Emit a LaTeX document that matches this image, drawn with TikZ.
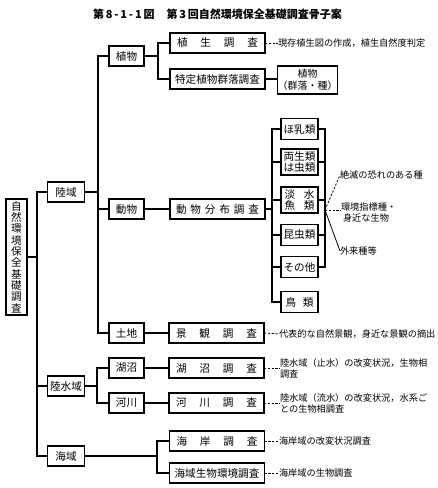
\documentclass[tikz,border=0pt]{standalone}
\usepackage{fontspec}
\setmainfont{Noto Sans CJK JP}
\begin{document}
\begin{tikzpicture}[x=1pt,y=-1pt,
  every node/.style={inner sep=0pt,outer sep=0pt},
  bx/.style={draw,line width=1.15pt,align=center,font=\fontsize{10.6}{11.8}\selectfont},
  lone/.style={bx,minimum width=37pt,minimum height=20pt},
  ltwo/.style={bx,minimum width=35pt,minimum height=20pt},
  lthree/.style={bx,minimum width=95pt,minimum height=20pt},
  ani/.style={bx,minimum width=37pt,minimum height=21pt},
  anitwo/.style={bx,minimum width=37pt,minimum height=26pt},
  note/.style={anchor=west,align=left,font=\fontsize{9.2}{11}\selectfont},
  ln/.style={line width=1.15pt},
  dln/.style={line width=0.8pt,dash pattern=on 2.2pt off 1.6pt}]
\useasboundingbox (0,0) rectangle (438,488);

% title
\node (title) at (217.5,14) {\fontsize{11}{12}\selectfont\bfseries 第\,8\,-\,1\,-\,1\,図\hspace{12pt}第\,3\,回自然環境保全基礎調査骨子案};

% root
\node[bx,minimum width=21pt,minimum height=116pt,font=\fontsize{10.6}{11.3}\selectfont] (root) at (16.5,257) {自\\然\\環\\境\\保\\全\\基\\礎\\調\\査};

% level 1
\node[lone] (rikuiki) at (66,192) {陸域};
\node[lone] (rikusui) at (66,386) {陸水域};
\node[lone] (kaiiki) at (66,456) {海域};

% level 2
\node[ltwo] (shokubutsu) at (126.5,56) {植物};
\node[ltwo] (doubutsu) at (126.5,209) {動物};
\node[ltwo] (tochi) at (126.5,333) {土地};
\node[ltwo] (koshou) at (126.5,368) {湖沼};
\node[ltwo] (kasen) at (126.5,403) {河川};

% level 3
\node[lthree] (shokusei) at (217.5,43) {\makebox[81pt]{植\hfill 生\hfill 調\hfill 査}};
\node[lthree] (tokutei) at (217.5,79) {特定植物群落調査};
\node[lthree] (bunpu) at (217.5,209) {\makebox[83pt]{動\hfill 物\hfill 分\hfill 布\hfill 調\hfill 査}};
\node[lthree] (keikan) at (216.5,333) {\makebox[81pt]{景\hfill 観\hfill 調\hfill 査}};
\node[lthree] (koshouc) at (216.5,368) {\makebox[81pt]{湖\hfill 沼\hfill 調\hfill 査}};
\node[lthree] (kasenc) at (216.5,403) {\makebox[81pt]{河\hfill 川\hfill 調\hfill 査}};
\node[lthree] (kaigan) at (217,441) {\makebox[81pt]{海\hfill 岸\hfill 調\hfill 査}};
\node[lthree] (kaiikic) at (217,473) {海域生物環境調査};

\node[bx,minimum width=55pt,minimum height=28pt,font=\fontsize{10}{12}\selectfont] (shokubutsu2) at (307.5,80) {植物\\（群落・種）};

% animals
\node[ani] (honyuu) at (299.5,129) {ほ乳類};
\node[anitwo] (ryousei) at (299.5,162) {両生類\\は虫類};
\node[anitwo] (tansui) at (299.5,200) {\makebox[30pt]{淡\hfill 水}\\\makebox[30pt]{魚\hfill 類}};
\node[ani] (konchu) at (299.5,235) {昆虫類};
\node[ani] (sonota) at (299.5,267) {その他};
\node[ani] (chou) at (299.5,302) {\makebox[28pt]{鳥\hfill 類}};

% notes
\node[note] (n1) at (278,43) {現存植生図の作成，植生自然度判定};
\node[note] (n2) at (340,175) {絶滅の恐れのある種};
\node[note] (n3) at (341,213) {環境指標種・\\\hspace{2pt}身近な生物};
\node[note] (n4) at (340,251) {外来種等};
\node[note] (n5) at (279,334) {代表的な自然景観，身近な景観の摘出};
\node[note] (n6) at (280,368) {陸水域（止水）の改変状況，生物相\\調査};
\node[note] (n7) at (280,403) {陸水域（流水）の改変状況，水系ご\\との生物相調査};
\node[note] (n8) at (279,441) {海岸域の改変状況調査};
\node[note] (n9) at (279,473) {海岸域の生物調査};

% junction coordinates
\coordinate (jA) at (37,257);
\coordinate (jB) at (98,192);
\coordinate (jC) at (97,386);
\coordinate (jD) at (157,456);
\coordinate (jE) at (158,56);
\coordinate (jF) at (272,209);
\coordinate (jG) at (325,210);

% connectors
\draw[ln] (root.east) -- (jA);
\draw[ln] (rikuiki.west) -| (jA) |- (kaiiki.west);
\draw[ln] (rikusui.west) -- (jA |- rikusui.west);

\draw[ln] (rikuiki.east) -- (jB);
\draw[ln] (shokubutsu.west) -| (jB) |- (tochi.west);
\draw[ln] (doubutsu.west) -- (jB |- doubutsu.west);

\draw[ln] (rikusui.east) -- (jC);
\draw[ln] (koshou.west) -| (jC) |- (kasen.west);

\draw[ln] (kaiiki.east) -- (jD);
\draw[ln] (kaigan.west) -| (jD) |- (kaiikic.west);

\draw[ln] (shokubutsu.east) -- (jE);
\draw[ln] (shokusei.west) -| (jE) |- (tokutei.west);

\draw[ln] (doubutsu.east) -- (bunpu.west);
\draw[ln] (tochi.east) -- (keikan.west);
\draw[ln] (koshou.east) -- (koshouc.west);
\draw[ln] (kasen.east) -- (kasenc.west);
\draw[ln] (tokutei.east) -- (shokubutsu2.west |- tokutei.east);

\draw[ln] (bunpu.east) -- (jF);
\draw[ln] (honyuu.west) -| (jF) |- (chou.west);
\draw[ln] (ryousei.west) -- (jF |- ryousei.west);
\draw[ln] (tansui.west) -- (jF |- tansui.west);
\draw[ln] (konchu.west) -- (jF |- konchu.west);
\draw[ln] (sonota.west) -- (jF |- sonota.west);

\draw[ln] (honyuu.east) -| (jG) |- (sonota.east);
\draw[ln] (ryousei.east) -- (jG |- ryousei.east);
\draw[ln] (tansui.east) -- (jG |- tansui.east);
\draw[ln] (konchu.east) -- (jG |- konchu.east);

\draw[dln] (jG) -- (n2.west);
\draw[dln] (jG) -- (n3.west |- jG);
\draw[line width=0.8pt] (jG) -- (n4.west);

\draw[dln] (shokusei.east) -- (n1.west);
\draw[dln] (keikan.east) -- (n5.west);
\draw[dln] (koshouc.east) -- (n6.west);
\draw[dln] (kasenc.east) -- (n7.west);
\draw[dln] (kaigan.east) -- (n8.west);
\draw[dln] (kaiikic.east) -- (n9.west);
\end{tikzpicture}
\end{document}
